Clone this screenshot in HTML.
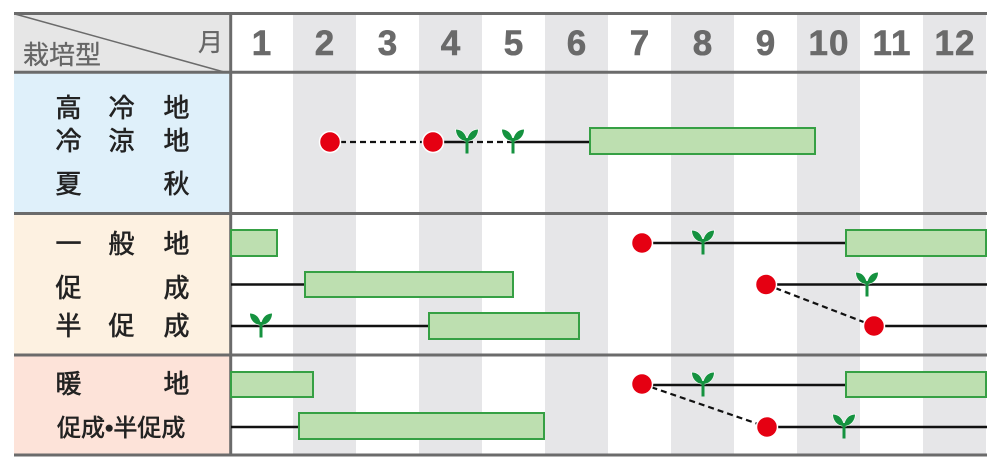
<!DOCTYPE html>
<html><head><meta charset="utf-8"><style>
html,body{margin:0;padding:0;background:#fff;}
svg{display:block;}
text{font-family:"Liberation Sans","Noto Sans CJK JP",sans-serif;}
</style></head><body>
<svg width="1000" height="471" viewBox="0 0 1000 471" xmlns="http://www.w3.org/2000/svg">
<defs>
<g id="sp">
<path d="M0,-1 C-1,-8 -5,-12.5 -11,-12.5 C-11,-6 -6,-1 0,-1 Z M0,-1 C1,-8 5,-12.5 11,-12.5 C11,-6 6,-1 0,-1 Z" fill="#15923f" stroke="#fff" stroke-width="1.2" paint-order="stroke"/>
<rect x="-1.5" y="-4" width="3" height="15.5" fill="#15923f"/>
</g>
</defs>
<rect width="1000" height="471" fill="#fff"/>
<!-- left cells -->
<rect x="14" y="14" width="216" height="58" fill="#e6e6e6"/>
<rect x="14" y="73" width="216" height="140" fill="#dff0fa"/>
<rect x="14" y="214" width="216" height="141" fill="#fdf1e1"/>
<rect x="14" y="356" width="216" height="99" fill="#fde3d9"/>
<!-- stripes -->
<g fill="#e6e6e8">
<rect x="293" y="14" width="63" height="441"/>
<rect x="419" y="14" width="63" height="441"/>
<rect x="545" y="14" width="63" height="441"/>
<rect x="671" y="14" width="63" height="441"/>
<rect x="797" y="14" width="63" height="441"/>
<rect x="923" y="14" width="63" height="441"/>
</g>
<!-- diagonal -->
<line x1="15" y1="14" x2="224" y2="72" stroke="#6b6b6b" stroke-width="1.5"/>
<!-- grid lines -->
<g stroke="#6b6b6b" stroke-width="3">
<line x1="14" y1="13.5" x2="987" y2="13.5"/>
<line x1="14" y1="72.3" x2="987" y2="72.3"/>
<line x1="14" y1="213.5" x2="987" y2="213.5"/>
<line x1="14" y1="355" x2="987" y2="355"/>
<line x1="14" y1="455" x2="987" y2="455"/>
<line x1="230.7" y1="12" x2="230.7" y2="456.5"/>
</g>
<!-- header text -->
<text x="23" y="64" font-size="26" fill="#666" stroke="#666" stroke-width="0.3">栽培型</text>
<text x="198" y="51" font-size="25" fill="#666" stroke="#666" stroke-width="0.3">月</text>
<g font-size="35" font-weight="bold" fill="#6a6a6a" stroke="#6a6a6a" stroke-width="0.6" text-anchor="middle">
<text x="261.5" y="55">1</text>
<text x="324.5" y="55">2</text>
<text x="387.5" y="55">3</text>
<text x="450.5" y="55">4</text>
<text x="513.5" y="55">5</text>
<text x="576.5" y="55">6</text>
<text x="639.5" y="55">7</text>
<text x="702.5" y="55">8</text>
<text x="765.5" y="55">9</text>
<text x="829" y="55" letter-spacing="1">10</text>
<text x="892" y="55" letter-spacing="1">11</text>
<text x="955" y="55" letter-spacing="1">12</text>
</g>
<!-- row labels -->
<g font-size="26" fill="#222" stroke="#222" stroke-width="0.6" text-anchor="middle">
<text x="68.5" y="117">高</text><text x="121.5" y="117">冷</text><text x="176.5" y="117">地</text>
<text x="68.5" y="150">冷</text><text x="121.5" y="150">涼</text><text x="176.5" y="150">地</text>
<text x="68.5" y="193">夏</text><text x="176.5" y="193">秋</text>
<text x="68.5" y="253">一</text><text x="121.5" y="253">般</text><text x="176.5" y="253">地</text>
<text x="68.5" y="297">促</text><text x="176.5" y="297">成</text>
<text x="68.5" y="335">半</text><text x="121.5" y="335">促</text><text x="176.5" y="335">成</text>
<text x="68.5" y="393">暖</text><text x="176.5" y="393">地</text>
</g>
<text x="57" y="436" font-size="24" fill="#222" stroke="#222" stroke-width="0.6">促成•半促成</text>
<!-- lines -->
<g stroke="#111" stroke-width="2.4" fill="none">
<line x1="433" y1="142" x2="467" y2="142"/>
<line x1="513" y1="142" x2="590" y2="142"/>
<line x1="642" y1="243" x2="846" y2="243"/>
<line x1="231" y1="284.5" x2="305" y2="284.5"/>
<line x1="766" y1="284.5" x2="987" y2="284.5"/>
<line x1="231" y1="326" x2="429" y2="326"/>
<line x1="874" y1="326" x2="987" y2="326"/>
<line x1="642" y1="385" x2="846" y2="385"/>
<line x1="231" y1="427" x2="299" y2="427"/>
<line x1="767" y1="427" x2="987" y2="427"/>
</g>
<g stroke="#111" stroke-width="2.2" fill="none" stroke-dasharray="6 4">
<line x1="330" y1="142" x2="433" y2="142"/>
<line x1="467" y1="142" x2="513" y2="142"/>
<line x1="766" y1="284.5" x2="874" y2="326"/>
<line x1="642" y1="384" x2="767" y2="427"/>
</g>
<!-- bars -->
<g fill="#bddfb0" stroke="#36a044" stroke-width="2">
<rect x="590" y="128" width="225" height="26"/>
<rect x="231" y="230" width="46" height="26"/>
<rect x="846" y="230" width="140" height="26"/>
<rect x="305" y="272" width="208" height="25"/>
<rect x="429" y="313" width="150" height="26"/>
<rect x="231" y="372" width="82" height="25"/>
<rect x="846" y="372" width="140" height="25"/>
<rect x="299" y="413" width="245" height="26"/>
</g>
<!-- dots -->
<g fill="#e50012" stroke="#fff" stroke-width="1.5">
<circle cx="330" cy="142" r="10.5"/>
<circle cx="433" cy="142" r="10.5"/>
<circle cx="642" cy="243" r="10.5"/>
<circle cx="766" cy="284.5" r="10.5"/>
<circle cx="874" cy="326" r="10.5"/>
<circle cx="642" cy="384" r="10.5"/>
<circle cx="767" cy="427" r="10.5"/>
</g>
<!-- sprouts -->
<use href="#sp" x="467" y="142"/>
<use href="#sp" x="513" y="142"/>
<use href="#sp" x="703" y="243"/>
<use href="#sp" x="867" y="285"/>
<use href="#sp" x="261" y="326"/>
<use href="#sp" x="703" y="385"/>
<use href="#sp" x="844" y="427"/>
</svg>
</body></html>
